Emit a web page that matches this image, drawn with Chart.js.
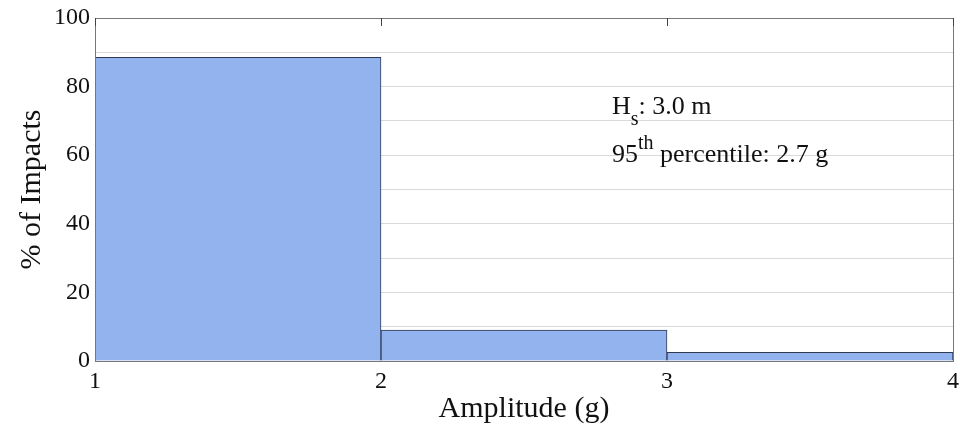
<!DOCTYPE html>
<html>
<head>
<meta charset="utf-8">
<script src="https://cdn.jsdelivr.net/npm/chart.js@4"></script>
<style>
html,body{margin:0;padding:0;background:#fff;}
#wrap{width:960px;height:433px;}
</style>
</head>
<body>
<div id="wrap"><canvas id="c" width="960" height="433"></canvas></div>
<script>
const binEdges = [1, 2, 3, 4];
const binCenters = [1.5, 2.5, 3.5];
const impactPercent = [88.5, 9.0, 2.5];
const yTicks = [0, 20, 40, 60, 80, 100];
const xTicks = [1, 2, 3, 4];

const FONT = "'Liberation Serif', 'Times New Roman', serif";

const annotation = {
  id: 'annotation',
  afterDatasetsDraw(chart) {
    const ctx = chart.ctx;
    const x0 = 612;
    ctx.save();
    ctx.fillStyle = '#111';
    ctx.textBaseline = 'alphabetic';
    ctx.textAlign = 'left';
    ctx.font = `26px ${FONT}`;
    ctx.fillText('H', x0, 114);
    let w = ctx.measureText('H').width;
    ctx.font = `20px ${FONT}`;
    ctx.fillText('s', x0 + w, 125);
    let ws = ctx.measureText('s').width;
    ctx.font = `26px ${FONT}`;
    ctx.fillText(': 3.0 m', x0 + w + ws, 114);
    ctx.font = `26px ${FONT}`;
    ctx.fillText('95', x0, 162);
    w = ctx.measureText('95').width;
    ctx.font = `20px ${FONT}`;
    ctx.fillText('th', x0 + w, 149);
    ws = ctx.measureText('th').width;
    ctx.font = `26px ${FONT}`;
    ctx.fillText(' percentile: 2.7 g', x0 + w + ws, 162);
    ctx.restore();
  }
};

const frame = {
  id: 'frame',
  afterDraw(chart) {
    const a = chart.chartArea;
    const ctx = chart.ctx;
    const xs = chart.scales.x;
    ctx.save();
    ctx.strokeStyle = '#777';
    ctx.lineWidth = 1;
    ctx.strokeRect(Math.round(a.left) + 0.5, Math.round(a.top) + 0.5, Math.round(a.right - a.left), Math.round(a.bottom - a.top));
    ctx.strokeStyle = '#444';
    xTicks.forEach(v => {
      const px = Math.round(xs.getPixelForValue(v)) + 0.5;
      ctx.beginPath();
      ctx.moveTo(px, a.top);
      ctx.lineTo(px, a.top + 8);
      ctx.stroke();
    });
    ctx.restore();
  }
};

new Chart(document.getElementById('c'), {
  type: 'bar',
  data: {
    datasets: [{
      data: binCenters.map((x, i) => ({ x: x, y: impactPercent[i] })),
      backgroundColor: '#93b3ef',
      borderColor: '#2f3a52',
      borderWidth: 1,
      barPercentage: 1,
      categoryPercentage: 1,
      grouped: false
    }]
  },
  options: {
    responsive: false,
    animation: false,
    devicePixelRatio: 1,
    layout: { padding: { top: 18, right: 7, left: 0, bottom: 0 } },
    plugins: { legend: { display: false }, tooltip: { enabled: false } },
    scales: {
      x: {
        type: 'linear',
        min: binEdges[0],
        max: binEdges[binEdges.length - 1],
        offset: false,
        grid: { display: false, drawTicks: false },
        border: { display: false },
        afterBuildTicks(s) { s.ticks = xTicks.map(v => ({ value: v })); },
        afterFit(s) { s.height = 72; s.paddingLeft = 0; s.paddingRight = 0; },
        ticks: {
          color: '#111',
          font: { family: FONT, size: 24 },
          padding: 6,
          maxRotation: 0,
          callback: v => String(v)
        },
        title: {
          display: true,
          text: 'Amplitude (g)',
          color: '#111',
          font: { family: FONT, size: 30 },
          padding: { top: 0, bottom: 6 }
        }
      },
      y: {
        min: 0,
        max: 100,
        grid: { color: '#d9d9d9', lineWidth: 1, drawTicks: false },
        border: { display: false },
        afterBuildTicks(s) {
          const t = [];
          for (let v = 0; v <= 100; v += 10) t.push({ value: v });
          s.ticks = t;
        },
        afterFit(s) { s.width = 95; s.paddingTop = 0; s.paddingBottom = 0; },
        ticks: {
          color: '#111',
          font: { family: FONT, size: 24 },
          padding: 5,
          callback: v => (yTicks.includes(v) ? String(v) : '')
        },
        title: {
          display: true,
          text: '% of Impacts',
          color: '#111',
          font: { family: FONT, size: 30 },
          padding: { top: 14, bottom: 4 }
        }
      }
    }
  },
  plugins: [annotation, frame]
});
</script>
</body>
</html>
